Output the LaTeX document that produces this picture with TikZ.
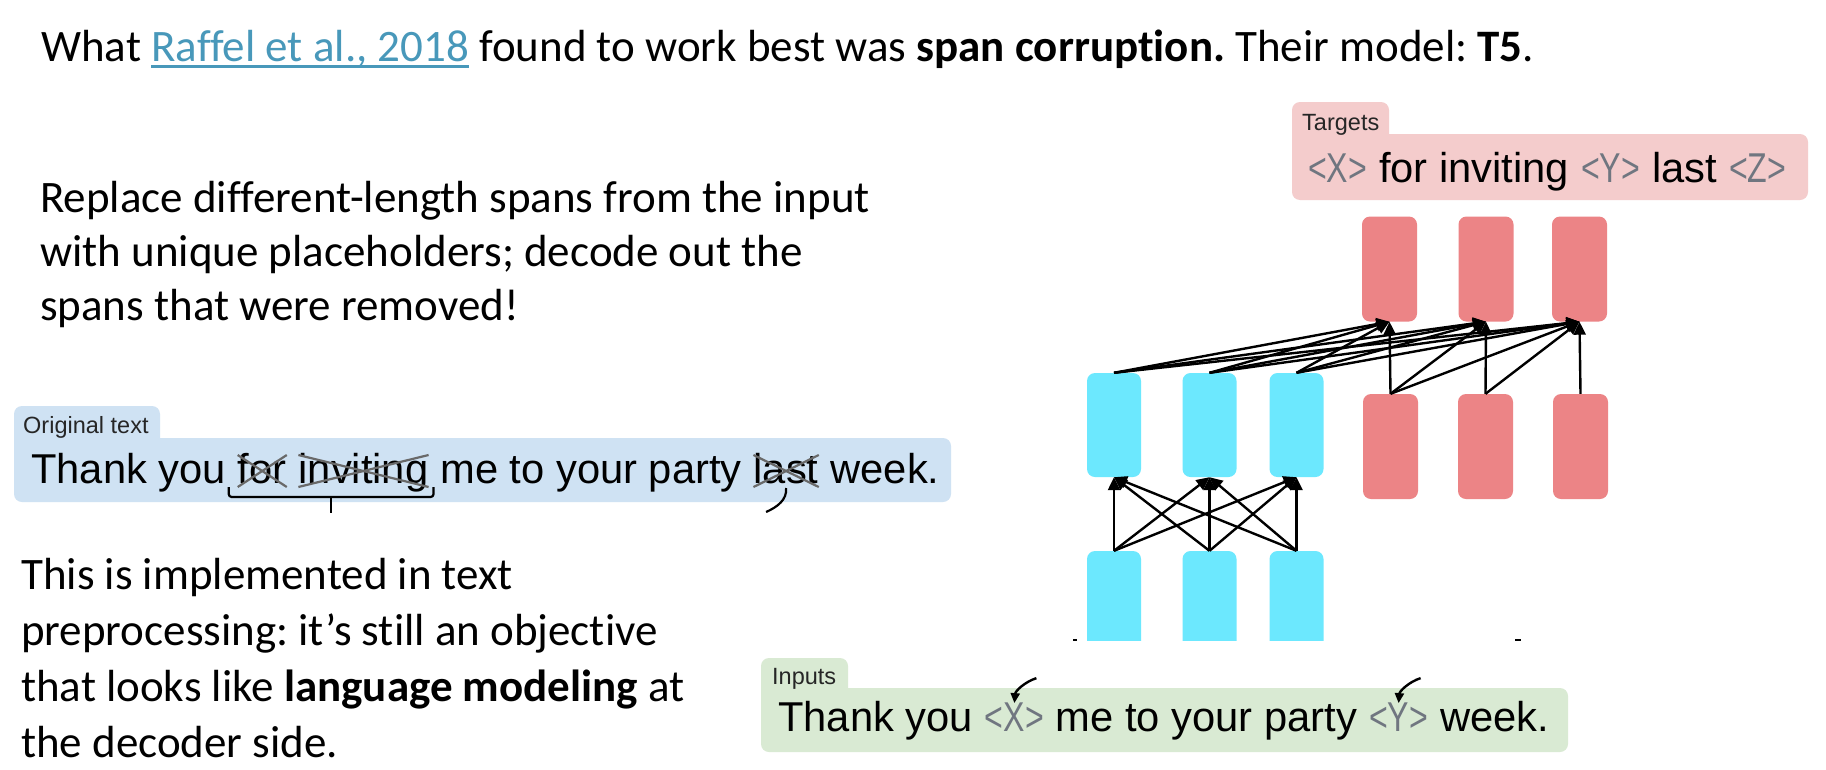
\documentclass[tikz,border=0pt]{standalone}
\usepackage{fontspec}
\setmainfont{Carlito}[Ligatures=NoCommon]
\newfontfamily\hvfont{Liberation Sans}
\usetikzlibrary{arrows.meta,calc}

\definecolor{linkblue}{RGB}{72,152,186}
\definecolor{enccol}{RGB}{108,232,254}
\definecolor{deccol}{RGB}{236,132,134}
\definecolor{origfill}{RGB}{207,226,243}
\definecolor{targfill}{RGB}{244,204,204}
\definecolor{inpfill}{RGB}{217,234,211}
\definecolor{phgrey}{RGB}{112,118,128}
\definecolor{strikegrey}{RGB}{105,105,105}

\newcommand\slidefont{\fontsize{45}{55}\selectfont}
\newcommand\boxfont{\hvfont\fontsize{41.7}{50}\selectfont}
\newcommand\tabfont{\hvfont\fontsize{23.5}{28}\selectfont}
\newcommand\placeholder[1]{\textcolor{phgrey}{\scalebox{0.77}[1]{#1}}}
% hyperlink-style underline: a thick rule just below the baseline
\newcommand\linkul[1]{\setbox0\hbox{#1}\rlap{\rule[-7pt]{\wd0}{2.8pt}}\box0}

\begin{document}
\frenchspacing
\begin{tikzpicture}[x=1pt,y=-1pt,
  line/.style={anchor=base west, inner sep=0pt, font=\slidefont},
  wd/.style={anchor=base west, inner sep=0pt, font=\boxfont},
  follows/.style={wd, at={([xshift=11.6pt]#1.base east)}},
  tablabel/.style={anchor=base west, inner sep=0pt, font=\tabfont, text=black!85},
  unitbox/.style={rounded corners=8pt, minimum width=54pt, minimum height=104pt, inner sep=0pt},
  enccell/.style={unitbox, fill=enccol},
  deccell/.style={unitbox, fill=deccol, minimum width=55pt, minimum height=105pt},
  conn/.style={line width=2.4pt, -{Triangle[length=13pt,width=12pt]}},
  strikeout/.style={draw=strikegrey, line width=2.2pt},
  pointer/.style={line width=2.4pt, -{Triangle[length=10pt,width=9pt]}},
]
\useasboundingbox (0,0) rectangle (1826,769);
\fill[white] (0,0) rectangle (1826,769);

% ---------- slide text ----------
\node[line] (title) at (41,61) {What \textcolor{linkblue}{\linkul{Raffel et al., 2018}} found to work best was \textbf{span corruption.} Their model: \textbf{T5}.};

\node[line] (pa1) at (40,212) {Replace different-length spans from the input};
\node[line] (pa2) at (40,266) {with unique placeholders; decode out the};
\node[line] (pa3) at (40,320) {spans that were removed!};

\node[line] (pb1) at (21,589) {This is implemented in text};
\node[line] (pb2) at (21,645) {preprocessing: it’s still an objective};
\node[line] (pb3) at (21,701) {that looks like \textbf{language modeling} at};
\node[line] (pb4) at (21,757) {the decoder side.};

% ---------- original text panel ----------
\fill[origfill, rounded corners=8pt] (14,406) rectangle (160,452);
\fill[origfill, rounded corners=8pt] (14,438) rectangle (951,502);
\node[tablabel] (origlab) at (23,433) {Original text};
\node[wd] (o1) at (31,483) {Thank you};
\node[follows=o1] (o2) {for};
\node[follows=o2] (o3) {inviting};
\node[follows=o3] (o4) {me to your party};
\node[follows=o4] (o5) {last};
\node[follows=o5] (o6) {week.};
\foreach \w in {o2,o3,o5}{
  \draw[strikeout] ([yshift=28pt]\w.base west) -- ([yshift=-4pt]\w.base east);
  \draw[strikeout] ([yshift=-4pt]\w.base west) -- ([yshift=28pt]\w.base east);
}
% brace under the first removed span
\coordinate (bl) at ([xshift=-9pt,yshift=-14pt]o2.base west);
\coordinate (br) at ([xshift=5pt,yshift=-14pt]o3.base east);
\draw[line width=2.2pt, rounded corners=3pt] ([yshift=10pt]bl) -- (bl) -- (br) -- ([yshift=10pt]br);
\draw[line width=2.2pt] ($(bl)!0.5!(br)$) -- ++(0,16);
% hook under the second removed span
\coordinate (lh) at ([yshift=-5pt]o5.base);
\draw[line width=2.2pt] (lh) .. controls ++(1,12) and ++(11,-5) .. ++(-20,24);

% ---------- targets panel ----------
\fill[targfill, rounded corners=8pt] (1292,102) rectangle (1389,150);
\fill[targfill, rounded corners=8pt] (1292,134) rectangle (1808,200);
\node[tablabel] (targlab) at (1302,130) {Targets};
\node[wd] (g1) at (1308,182) {\placeholder{<X>}};
\node[follows=g1] (g2) {for inviting};
\node[follows=g2] (g3) {\placeholder{<Y>}};
\node[follows=g3] (g4) {last};
\node[follows=g4] (g5) {\placeholder{<Z>}};

% ---------- inputs panel ----------
\fill[inpfill, rounded corners=8pt] (761,658) rectangle (848,705);
\fill[inpfill, rounded corners=8pt] (761,688) rectangle (1568,752);
\node[tablabel] (inplab) at (772,684) {Inputs};
\node[wd] (i1) at (778,731) {Thank you};
\node[follows=i1] (i2) {\placeholder{<X>}};
\node[follows=i2] (i3) {me to your party};
\node[follows=i3] (i4) {\placeholder{<Y>}};
\node[follows=i4] (i5) {week.};
\foreach \w in {i2,i4}{
  \coordinate (tip) at ([yshift=-1pt]\w.north);
  \draw[pointer] ([xshift=22pt,yshift=25pt]tip) .. controls ([xshift=10pt,yshift=21pt]tip) and ([xshift=1pt,yshift=12pt]tip) .. (tip);
}

% ---------- encoder ----------
\node[enccell] (e1) at (1114,425) {};
\node[enccell] (e2) at (1209.5,425) {};
\node[enccell] (e3) at (1296.5,425) {};
\begin{scope}
  \clip (1000,530) rectangle (1400,640);
  \node[enccell] (x1) at (1114,603) {};
  \node[enccell] (x2) at (1209.5,603) {};
  \node[enccell] (x3) at (1296.5,603) {};
\end{scope}
\fill (1073,639) rectangle (1077,641);
\fill (1515,639) rectangle (1521,641);

% ---------- decoder ----------
\node[deccell] (r1) at (1390.5,446.5) {};
\node[deccell] (r2) at (1485.5,446.5) {};
\node[deccell] (r3) at (1580.5,446.5) {};
\node[deccell] (t1) at (1389.5,269) {};
\node[deccell] (t2) at (1486,269) {};
\node[deccell] (t3) at (1579.5,269) {};

% ---------- connections ----------
\foreach \i in {1,2,3}{
  \foreach \j in {1,2,3}{
    \draw[conn] (x\i.north) -- (e\j.south);
    \draw[conn] (e\i.north) -- (t\j.south);
  }
}
\draw[conn] (r1.north) -- (t1.south);
\draw[conn] (r1.north) -- (t2.south);
\draw[conn] (r1.north) -- (t3.south);
\draw[conn] (r2.north) -- (t2.south);
\draw[conn] (r2.north) -- (t3.south);
\draw[conn] (r3.north) -- (t3.south);
\end{tikzpicture}
\end{document}
